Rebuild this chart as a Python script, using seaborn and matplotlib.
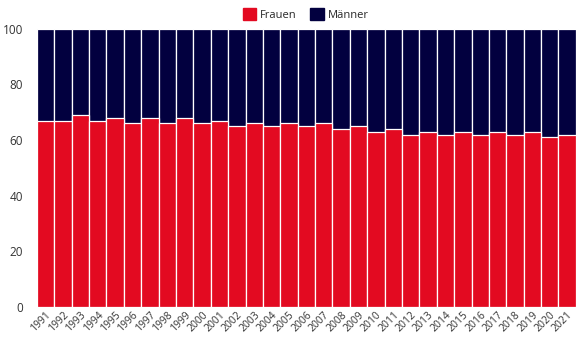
import matplotlib
matplotlib.use("Agg")
import matplotlib.pyplot as plt
import seaborn as sns
import pandas as pd
from matplotlib.patches import Patch

years = list(range(1991, 2022))
frauen = [67, 67, 69, 67, 68, 66, 68, 66, 68, 66, 67, 65, 66, 65, 66,
          65, 66, 64, 65, 63, 64, 62, 63, 62, 63, 62, 63, 62, 63, 61, 62]
maenner = [100 - f for f in frauen]

red = "#E30A21"
navy = "#02003F"

df = pd.DataFrame({"Jahr": [str(y) for y in years], "Frauen": frauen, "Männer": maenner})
df["Gesamt"] = df["Frauen"] + df["Männer"]

sns.set_style("white")
plt.rcParams["font.family"] = ["Open Sans", "DejaVu Sans"]

fig = plt.figure(figsize=(5.77, 3.44), dpi=100)
ax = fig.add_axes([0.064, 0.108, 0.934, 0.808])

# stacked: total first (Männer on top), then Frauen
sns.barplot(data=df, x="Jahr", y="Gesamt", color=navy, width=1.0,
            edgecolor="white", linewidth=0.9, ax=ax, saturation=1)
sns.barplot(data=df, x="Jahr", y="Frauen", color=red, width=1.0,
            edgecolor="white", linewidth=0.9, ax=ax, saturation=1)

ax.set_xlim(-0.5, len(years) - 0.5)
ax.set_ylim(0, 100)
ax.set_yticks([0, 20, 40, 60, 80, 100])
ax.set_xlabel("")
ax.set_ylabel("")
sns.despine(ax=ax, left=True, bottom=True)
ax.tick_params(axis="both", length=0, colors="#333333")
ax.tick_params(axis="y", pad=10, labelsize=8.5)
ax.tick_params(axis="x", pad=2, labelsize=7.5)
plt.setp(ax.get_xticklabels(), rotation=45, ha="right", rotation_mode="anchor")

handles = [Patch(color=red, label="Frauen"), Patch(color=navy, label="Männer")]
fig.legend(handles=handles, loc="upper center", bbox_to_anchor=(0.53, 1.005), ncol=2,
           frameon=False, fontsize=8, handlelength=1.2, handleheight=1.2,
           handletextpad=0.4, columnspacing=1.2)

fig.savefig("out.png", dpi=100)
